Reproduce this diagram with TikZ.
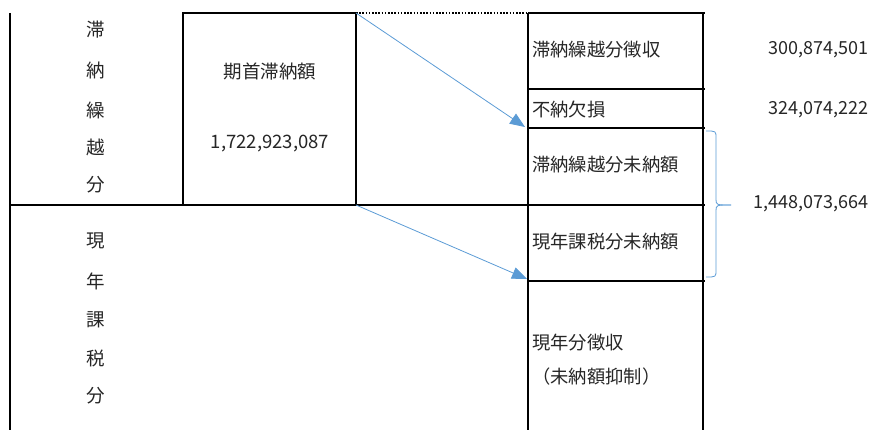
\documentclass[tikz,border=0pt]{standalone}
\usepackage{fontspec}
\setmainfont{Noto Sans CJK JP}
\usetikzlibrary{arrows.meta}
\definecolor{lineblue}{HTML}{5B9BD5}
\definecolor{txt}{HTML}{262626}
\tikzset{
  thickline/.style={line width=2pt, black},
  blueline/.style={line width=0.8pt, lineblue},
  bluearrow/.style={blueline, -{Triangle[length=15pt,width=12pt]}},
  vchar/.style={font=\fontsize{18.5}{18.5}\selectfont, text=txt, inner sep=0pt},
  lbl/.style={font=\fontsize{18.3}{18.3}\selectfont, text=txt, inner sep=0pt, anchor=west},
  num/.style={font=\fontsize{18}{18}\selectfont, text=txt, inner sep=0pt, anchor=east},
}
\begin{document}
\begin{tikzpicture}[x=1pt,y=-1pt]
\useasboundingbox (0,0) rectangle (874,430);
% coordinates
\coordinate (LT) at (10,13);
\coordinate (LB) at (10,430);
\coordinate (BTL) at (183,13);
\coordinate (BTR) at (356,13);
\coordinate (BBL) at (183,205);
\coordinate (BBR) at (356,205);
\coordinate (RTL) at (528,13);
\coordinate (RTR) at (705,13);
\coordinate (RBL) at (528,430);
\coordinate (RBR) at (703,430);
% left frame
\draw[thickline] (LT) -- (LB);
\draw[thickline] (10,205) -- (705,205);
% box
\draw[thickline] (BTL) rectangle (BBR);
\node[vchar] (bt) at (270,72) {期首滞納額};
\node[vchar] (bn) at (270,144) {1,722,923,087};
% dotted top
\draw[line width=2pt, dash pattern=on 1.6pt off 1.6pt] (BTR) -- (RTL);
% right column
\draw[thickline] (RTL) -- (RBL);
\draw[thickline] (703,13) -- (RBR);
\draw[thickline] (RTL) -- (RTR);
\draw[thickline] (528,89) -- (705,89);
\draw[thickline] (528,128) -- (705,128);
\draw[thickline] (528,281) -- (705,281);
% right labels
\node[lbl] (r1) at (532,50) {滞納繰越分徴収};
\node[lbl] (r2) at (532,109) {不納欠損};
\node[lbl] (r3) at (532,165) {滞納繰越分未納額};
\node[lbl] (r4) at (532,242) {現年課税分未納額};
\node[lbl] (r5) at (532,343) {現年分徴収};
\node[lbl] (r6) at (532,377) {（未納額抑制）};
% numbers
\node[num] (n1) at (869,50) {300,874,501};
\node[num] (n2) at (869,110) {324,074,222};
\node[num] (n3) at (869,204) {1,448,073,664};
% left vertical labels
\foreach \c/\yy/\nm in {滞/30/a1,納/70/a2,繰/110/a3,越/147/a4,分/185/a5,現/241/b1,年/281/b2,課/320/b3,税/358/b4,分/396/b5}
  \node[vchar] (\nm) at (96,\yy) {\c};
% arrows
\coordinate (A1) at (525,127);
\coordinate (A2) at (527,279);
\draw[bluearrow] (BTR) -- (A1);
\draw[bluearrow] (BBR) -- (A2);
% brace
\coordinate (tip) at (731,205);
\draw[blueline] (706,131) .. controls (716,131) .. (716,138) -- (716,199) .. controls (716,205) .. (tip);
\draw[blueline] (tip) .. controls (716,205) .. (716,211) -- (716,270) .. controls (716,277) .. (706,277);
\end{tikzpicture}
\end{document}
